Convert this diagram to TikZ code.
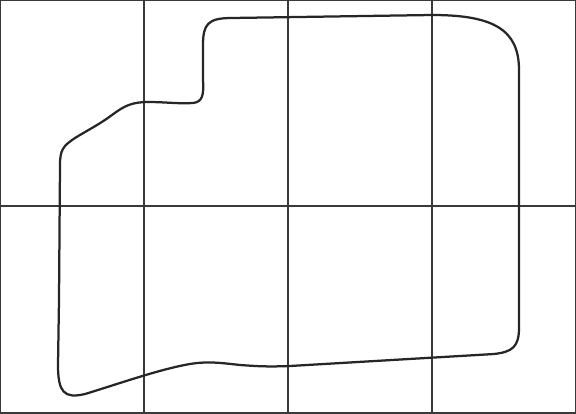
\documentclass[tikz,border=0pt]{standalone}
\usetikzlibrary{calc}
\tikzset{gridline/.style={gray!45!black, line width=0.8pt},
  outline/.style={black!85, line width=1.6pt, line join=round}}

\begin{document}
\begin{tikzpicture}[x=0.025cm, y=-0.025cm]
    \useasboundingbox (0,0) rectangle (576,413);
    \draw[gridline] (0,0) rectangle (576,413);
    \foreach \gx in {144,288,432}
      \draw[gridline] (\gx,0) -- (\gx,413);
    \draw[gridline] (0,206) -- (576,206);
    \draw[outline] (59,300) -- (60,165)
      .. controls (60,150) and (63,146) .. (75,138)
      .. controls (88,130) and (100,124) .. (112,115)
      .. controls (124,106) and (132,102) .. (148,102)
      .. controls (165,102) and (180,104) .. (193,103)
      .. controls (202,102) and (204,96) .. (203,80)
      -- (203,45)
      .. controls (203,24) and (208,18) .. (232,18)
      -- (432,15)
      .. controls (494,15) and (519,30) .. (519,70)
      -- (519,328)
      .. controls (519,347) and (512,352) .. (494,354)
      -- (290,366)
      .. controls (265,367) and (255,366) .. (240,365)
      .. controls (222,363) and (208,361) .. (190,364)
      .. controls (160,369) and (115,385) .. (85,394)
      .. controls (64,399) and (58,392) .. (58,365)
      -- cycle;
  \end{tikzpicture}
\end{document}
